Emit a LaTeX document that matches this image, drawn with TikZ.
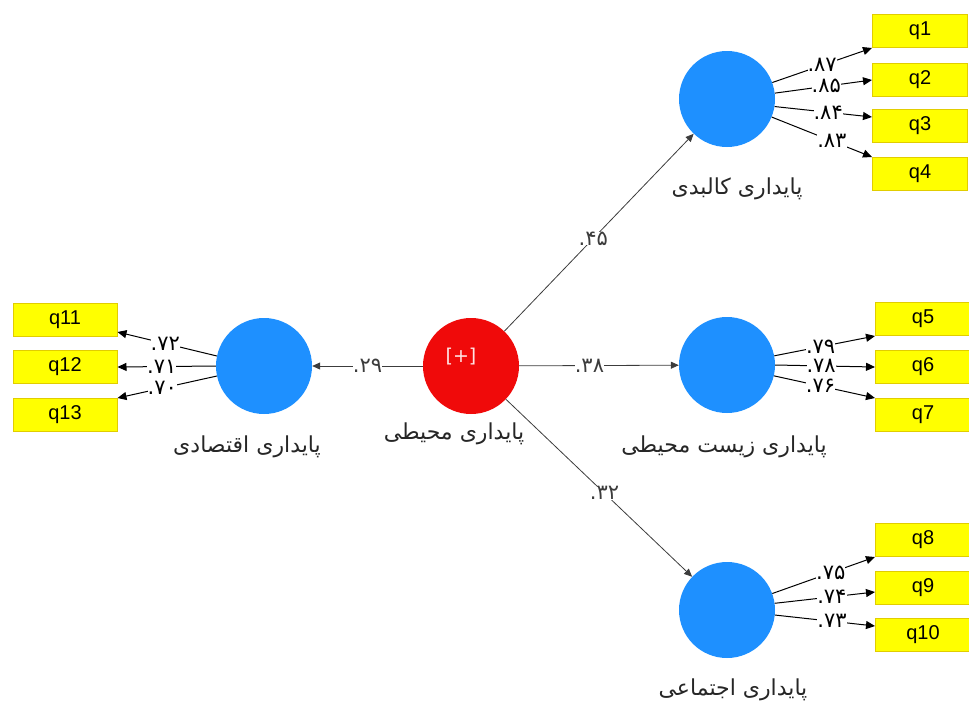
\documentclass[tikz,border=0pt]{standalone}
\usepackage{fontspec}
\setmainfont{DejaVu Sans}
\newfontfamily\arabicfont[Script=Arabic]{DejaVu Sans}
\newfontfamily\digitfont{DejaVu Sans}
\newfontfamily\boxfont{Liberation Sans}
\TeXXeTstate=1
\usetikzlibrary{arrows.meta}
\definecolor{lvblue}{RGB}{30,144,255}
\definecolor{lvred}{RGB}{240,10,10}
\definecolor{boxyellow}{RGB}{255,255,0}
\definecolor{boxedge}{RGB}{225,205,0}
\definecolor{pathgray}{RGB}{60,60,60}
\begin{document}
\begin{tikzpicture}[x=1pt,y=-1pt,
  lv/.style={circle,fill=lvblue,minimum size=96pt,inner sep=0pt},
  ind/.style={rectangle,fill=boxyellow,draw=boxedge,line width=1pt,minimum width=95pt,minimum height=33pt,inner sep=0pt,font=\boxfont\fontsize{20}{20}\selectfont},
  lab/.style={font=\arabicfont\fontsize{22}{24}\selectfont,text=black!85},
  coef/.style={fill=white,inner sep=0pt,font=\digitfont\fontsize{21}{21}\selectfont},
  arr/.style={-{Triangle[length=9pt,width=8pt]},line width=1pt,black},
  main/.style={-{Triangle[length=8pt,width=7pt]},line width=0.8pt,pathgray}
]
\useasboundingbox (0,0) rectangle (969,702);

% latent variables
\node[circle,fill=lvred,minimum size=96pt,inner sep=0pt] (red) at (471,366) {};
\node[text=pink!40!white,font=\fontsize{19}{19}\selectfont] (plus) at (461,357) {[+]};
\node[lv] (c1) at (727,99) {};
\node[lv] (c2) at (727,365) {};
\node[lv] (c3) at (727,610) {};
\node[lv] (c4) at (264,366) {};

% latent labels
\node[lab] (lred) at (454,434) {\beginR پایداری محیطی\endR};
\node[lab] (l1) at (737,189) {\beginR پایداری کالبدی\endR};
\node[lab] (l2) at (724,447) {\beginR پایداری زیست محیطی\endR};
\node[lab] (l3) at (733,690) {\beginR پایداری اجتماعی\endR};
\node[lab] (l4) at (247,447) {\beginR پایداری اقتصادی\endR};

% indicators
\node[ind] (q1) at (920,31) {q1};
\node[ind] (q2) at (920,80) {q2};
\node[ind] (q3) at (920,126) {q3};
\node[ind] (q4) at (920,174) {q4};
\node[ind] (q5) at (923,319) {q5};
\node[ind] (q6) at (923,367) {q6};
\node[ind] (q7) at (923,415) {q7};
\node[ind] (q8) at (923,540) {q8};
\node[ind] (q9) at (923,588) {q9};
\node[ind] (q10) at (923,635) {q10};
\node[ind,minimum width=104pt] (q11) at (65,320) {q11};
\node[ind,minimum width=104pt] (q12) at (65,367) {q12};
\node[ind,minimum width=104pt] (q13) at (65,415) {q13};

% structural paths
\draw[main] (red) -- node[coef,pos=0.47]{.۴۵} (c1);
\draw[main] (red) -- node[coef,pos=0.44]{.۳۸} (c2);
\draw[main] (red) -- node[coef,pos=0.53]{.۳۲} (c3);
\draw[main] (red) -- node[coef,pos=0.5]{.۲۹} (c4);

% outer loadings
\draw[arr] (c1.20) -- node[coef,pos=0.5]{.۸۷} (q1.south west);
\draw[arr] (c1.7) -- node[coef,pos=0.53]{.۸۵} (q2.west);
\draw[arr] (c1.-9) -- node[coef,pos=0.55]{.۸۴} ([yshift=-8pt]q3.north west);
\draw[arr] (c1.-22) -- node[coef,pos=0.6]{.۸۳} (q4.north west);

\draw[arr] (c2.11) -- node[coef,pos=0.46]{.۷۹} (q5.south west);
\draw[arr] (c2.0) -- node[coef,pos=0.46]{.۷۸} (q6.west);
\draw[arr] (c2.-13) -- node[coef,pos=0.46]{.۷۶} (q7.north west);

\draw[arr] (c3.20) -- node[coef,pos=0.57]{.۷۵} (q8.south west);
\draw[arr] (c3.8) -- node[coef,pos=0.57]{.۷۴} ([yshift=-4pt]q9.west);
\draw[arr] (c3.-6) -- node[coef,pos=0.57]{.۷۳} ([yshift=-8pt]q10.north west);

\draw[arr] (c4.168) -- node[coef,pos=0.52]{.۷۲} ([yshift=5pt]q11.south east);
\draw[arr] (c4.180) -- node[coef,pos=0.55]{.۷۱} (q12.east);
\draw[arr] (c4.192) -- node[coef,pos=0.55]{.۷۰} (q13.north east);
\end{tikzpicture}
\end{document}
